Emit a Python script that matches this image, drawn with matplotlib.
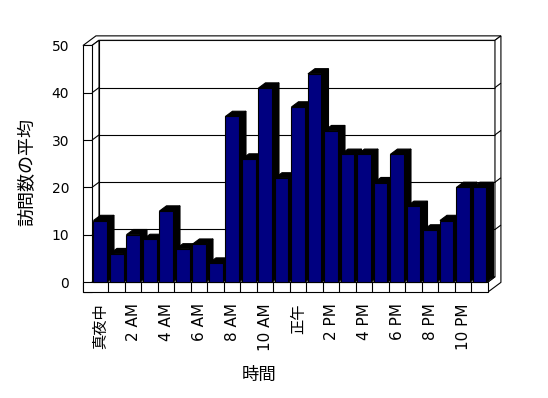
import numpy as np
import matplotlib
matplotlib.use("Agg")
import matplotlib.pyplot as plt
from matplotlib.patches import Polygon

plt.rcParams['font.family'] = ['DejaVu Sans', 'Noto Sans CJK JP']

# average visits per hour
hours = list(range(24))
visits = [13, 6, 10, 9, 15, 7, 8, 4, 35, 26, 41, 22, 37, 44, 32, 27, 27, 21, 27, 16, 11, 13, 20, 20]
tick_pos = list(range(0, 24, 2))
tick_labels = ['真夜中', '2 AM', '4 AM', '6 AM', '8 AM', '10 AM',
               '正午', '2 PM', '4 PM', '6 PM', '8 PM', '10 PM']
y_ticks = [0, 10, 20, 30, 40, 50]

fig = plt.figure(figsize=(5.48, 3.98), dpi=100)
ax = fig.add_axes([83/548, (398-292)/398, 419/548, 258/398])
ax.set_xlim(-1.045, 24.35)
ax.set_ylim(-2.114, 52.43)
ax.set_facecolor('none')
for s in ax.spines.values():
    s.set_visible(False)

# oblique depth: one unit = bar depth
DX, DY = 0.4242, 1.1
D2 = 1.85
xl, xr = -0.5, 23.5
wl, yf = -1.045, -2.114
top = 50


def p(x, y, d=0):
    return (x + d * DX, y + d * DY)


def poly(pts, fc='white', z=1, lw=0.8):
    ax.add_patch(Polygon(pts, closed=True, facecolor=fc, edgecolor='black',
                         linewidth=lw, zorder=z, clip_on=False, joinstyle='miter'))


def line(a, b, z=2):
    ax.plot([a[0], b[0]], [a[1], b[1]], color='black', lw=0.8, zorder=z,
            clip_on=False, solid_capstyle='butt')


# back wall
poly([p(xl, 0, 1), p(xr, 0, 1), p(xr, top, 1), p(xl, top, 1)])
# top of the wall slabs
poly([p(wl, top), p(xl, top), p(xl, top, 1), p(xr, top, 1), p(xr, top, D2), p(wl, top, D2)])
# right side of back wall and floor
poly([p(xr, yf), p(xr, 0), p(xr, 0, 1), p(xr, top, 1), p(xr, top, D2), p(xr, yf, D2)])
# left wall inner face and front face
poly([p(xl, 0), p(xl, top), p(xl, top, 1), p(xl, 0, 1)])
poly([p(wl, yf), p(xl, yf), p(xl, top), p(wl, top)])
# floor top and front
poly([p(xl, 0), p(xr, 0), p(xr, 0, 1), p(xl, 0, 1)])
poly([p(wl, yf), p(xr, yf), p(xr, 0), p(wl, 0)], z=1.5)

for v in y_ticks[1:-1]:
    line(p(xl, v, 1), p(xr, v, 1))
    line(p(wl, v), p(xl, v))
    line(p(xl, v), p(xl, v, 1))
    line(p(xr, v, 1), p(xr, v, D2))
for k in range(1, 24):
    line(p(k - 0.5, yf), p(k - 0.5, 0), z=2)

# bars
hw = 0.41
for i, v in zip(hours, visits):
    z = 10 + i
    poly([p(i + hw, 0), p(i + hw, v), p(i + hw, v, 1), p(i + hw, 0, 1)], fc='black', z=z)
    poly([p(i - hw, v), p(i + hw, v), p(i + hw, v, 1), p(i - hw, v, 1)], fc='black', z=z)
    ax.bar(i, v, width=2 * hw, color='#000080', edgecolor='black', linewidth=0.8, zorder=z + 0.5)

ax.set_yticks(y_ticks)
ax.set_yticklabels([str(v) for v in y_ticks], fontsize=10)
ax.set_xticks(tick_pos)
ax.set_xticklabels(tick_labels, rotation=90, fontsize=11)
ax.tick_params(axis='y', length=0, pad=10)
ax.tick_params(axis='x', length=0, pad=8)

fig.text(27.5/548, 1 - 172/398, '訪問数の平均', rotation=90, ha='center', va='center', fontsize=13)
fig.text(259/548, 1 - 375/398, '時間', ha='center', va='center', fontsize=12.5)

fig.savefig('out.png', dpi=100)
